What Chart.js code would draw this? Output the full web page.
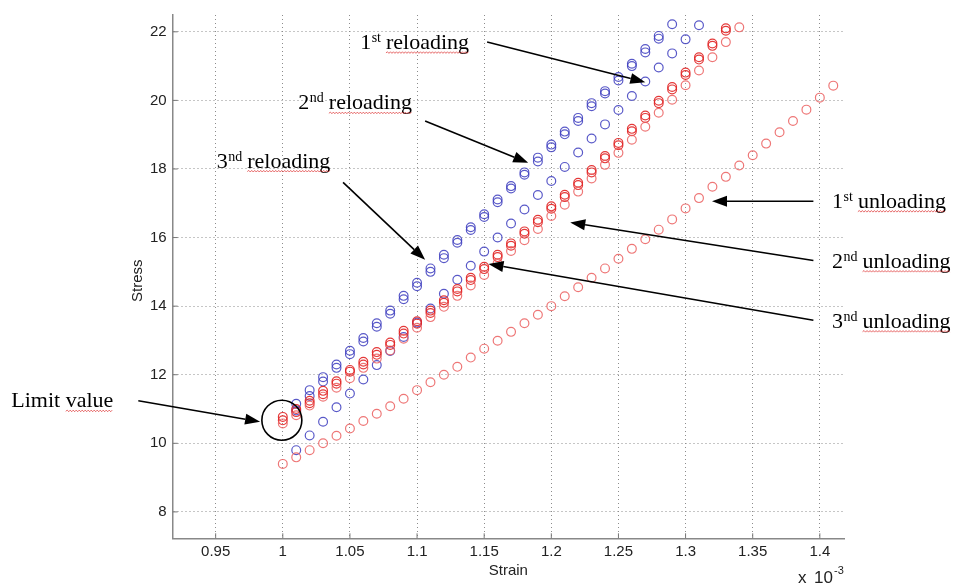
<!DOCTYPE html>
<html>
<head>
<meta charset="utf-8">
<title>Stress-strain cycles</title>
<script src="https://cdn.jsdelivr.net/npm/chart.js@4.4.1/dist/chart.umd.min.js"></script>
<style>
  html, body { margin: 0; padding: 0; background: #fff; }
  canvas { display: block; }
</style>
</head>
<body>
<canvas id="cycleChart" width="955" height="586"></canvas>
<script>
// strain (x 10^-3) and stress readings for each loading branch
const strainReload1 = [1.01, 1.02, 1.03, 1.04, 1.05, 1.06, 1.07, 1.08, 1.09, 1.10, 1.11, 1.12, 1.13, 1.14, 1.15, 1.16,
  1.17, 1.18, 1.19, 1.20, 1.21, 1.22, 1.23, 1.24, 1.25, 1.26, 1.27, 1.28, 1.29, 1.30, 1.31];
const stressReload1 = [9.80, 10.23, 10.63, 11.05, 11.45, 11.86, 12.28, 12.69, 13.10, 13.52, 13.93, 14.36, 14.77, 15.18, 15.59, 16.00,
  16.41, 16.82, 17.24, 17.65, 18.06, 18.48, 18.89, 19.30, 19.72, 20.13, 20.55, 20.96, 21.37, 21.78, 22.19];

const strainReload2 = [1.01, 1.02, 1.03, 1.04, 1.05, 1.06, 1.07, 1.08, 1.09, 1.10, 1.11, 1.12, 1.13, 1.14, 1.15,
  1.16, 1.17, 1.18, 1.19, 1.20, 1.21, 1.22, 1.23, 1.24, 1.25, 1.26, 1.27, 1.28, 1.29];
const stressReload2 = [11.15, 11.55, 11.93, 12.30, 12.70, 13.07, 13.50, 13.87, 14.30, 14.68, 15.10, 15.50, 15.93, 16.30, 16.68,
  17.11, 17.50, 17.90, 18.33, 18.71, 19.09, 19.49, 19.92, 20.27, 20.68, 21.07, 21.50, 21.88, 22.22];

const strainReload3 = [1.01, 1.02, 1.03, 1.04, 1.05, 1.06, 1.07, 1.08, 1.09, 1.10, 1.11, 1.12, 1.13, 1.14,
  1.15, 1.16, 1.17, 1.18, 1.19, 1.20, 1.21, 1.22, 1.23, 1.24, 1.25, 1.26, 1.27, 1.28];
const stressReload3 = [10.96, 11.38, 11.80, 12.20, 12.60, 12.97, 13.40, 13.78, 14.20, 14.58, 15.00, 15.40, 15.85, 16.22,
  16.60, 17.03, 17.43, 17.83, 18.22, 18.63, 19.01, 19.40, 19.83, 20.20, 20.58, 21.00, 21.40, 21.80];

const strainUnload1 = [1.00, 1.01, 1.02, 1.03, 1.04, 1.05, 1.06, 1.07, 1.08, 1.09, 1.10, 1.11, 1.12, 1.13,
  1.14, 1.15, 1.16, 1.17, 1.18, 1.19, 1.20, 1.21, 1.22, 1.23, 1.24, 1.25, 1.26, 1.27,
  1.28, 1.29, 1.30, 1.31, 1.32, 1.33, 1.34, 1.35, 1.36, 1.37, 1.38, 1.39, 1.40, 1.41];
const stressUnload1 = [9.40, 9.59, 9.80, 10.00, 10.22, 10.43, 10.65, 10.86, 11.08, 11.30, 11.55, 11.78, 12.00, 12.23,
  12.50, 12.76, 12.99, 13.25, 13.50, 13.75, 14.00, 14.29, 14.55, 14.83, 15.10, 15.38, 15.67, 15.95,
  16.23, 16.53, 16.85, 17.15, 17.48, 17.77, 18.10, 18.40, 18.74, 19.07, 19.40, 19.73, 20.08, 20.43];

const strainUnload2 = [1.00, 1.01, 1.02, 1.03, 1.04, 1.05, 1.06, 1.07, 1.08, 1.09, 1.10, 1.11, 1.12, 1.13, 1.14, 1.15, 1.16, 1.17,
  1.18, 1.19, 1.20, 1.21, 1.22, 1.23, 1.24, 1.25, 1.26, 1.27, 1.28, 1.29, 1.30, 1.31, 1.32, 1.33, 1.34];
const stressUnload2 = [10.58, 10.82, 11.10, 11.36, 11.62, 11.90, 12.20, 12.47, 12.71, 13.05, 13.37, 13.68, 13.98, 14.30, 14.60, 14.91, 15.25, 15.61,
  15.92, 16.25, 16.63, 16.96, 17.34, 17.72, 18.12, 18.47, 18.85, 19.23, 19.64, 20.02, 20.44, 20.87, 21.26, 21.70, 22.13];

const strainUnload3 = [1.00, 1.01, 1.02, 1.03, 1.04, 1.05, 1.06, 1.07, 1.08, 1.09, 1.10, 1.11, 1.12, 1.13, 1.14, 1.15, 1.16,
  1.17, 1.18, 1.19, 1.20, 1.21, 1.22, 1.23, 1.24, 1.25, 1.26, 1.27, 1.28, 1.29, 1.30, 1.31, 1.32, 1.33];
const stressUnload3 = [10.77, 11.00, 11.24, 11.53, 11.81, 12.14, 12.38, 12.66, 12.94, 13.28, 13.56, 13.87, 14.17, 14.50, 14.83, 15.15, 15.50,
  15.83, 16.18, 16.52, 16.91, 17.25, 17.60, 17.97, 18.38, 18.76, 19.17, 19.56, 19.99, 20.39, 20.81, 21.26, 21.66, 22.10];
const stressUnload3b = [10.67, 10.91, 11.17, 11.43, 11.74, 12.09, 12.30, 12.58, 12.87, 13.20, 13.49, 13.80, 14.10, 14.43, 14.76, 15.08, 15.43,
  15.76, 16.11, 16.45, 16.84, 17.18, 17.53, 17.90, 18.31, 18.69, 19.10, 19.49, 19.92, 20.32, 20.74, 21.19, 21.59, 22.03];

const xTicks = [0.95, 1, 1.05, 1.1, 1.15, 1.2, 1.25, 1.3, 1.35, 1.4];
const yTicks = [8, 10, 12, 14, 16, 18, 20, 22];

function pairUp(xs, ys) {
    return xs.map((x, i) => ({ x: x, y: ys[i] }));
}

function series(label, xs, ys, color) {
    return {
        label: label,
        data: pairUp(xs, ys),
        showLine: false,
        pointStyle: 'circle',
        pointRadius: 4.4,
        pointHoverRadius: 4.4,
        pointBorderWidth: 1.2,
        pointBackgroundColor: 'rgba(0,0,0,0)',
        pointBorderColor: color,
        borderColor: color
    };
}

// callouts, given in data units (strain, stress)
const callouts = [
    { num: '1', sup: 'st', word: 'reloading', at: [1.0576, 21.50], from: [1.1522, 21.70], to: [1.2700, 20.53] },
    { num: '2', sup: 'nd', word: 'reloading', at: [1.0116, 19.74], from: [1.1060, 19.40], to: [1.1828, 18.18] },
    { num: '3', sup: 'nd', word: 'reloading', at: [0.9508, 18.04], from: [1.0449, 17.61], to: [1.1060, 15.35] },
    { num: '1', sup: 'st', word: 'unloading', at: [1.4091, 16.87], from: [1.3952, 17.06], to: [1.3197, 17.06] },
    { num: '2', sup: 'nd', word: 'unloading', at: [1.4091, 15.12], from: [1.3952, 15.33], to: [1.2141, 16.44] },
    { num: '3', sup: 'nd', word: 'unloading', at: [1.4091, 13.37], from: [1.3952, 13.59], to: [1.1532, 15.23] },
    { num: '', sup: '', word: 'Limit value', squiggleFrom: 'Limit ', at: [0.7978, 11.05], from: [0.8924, 11.24], to: [0.9831, 10.63] }
];
const limitRing = { center: [0.9993, 10.674], radius: 20 };

function drawArrow(ctx, x1, y1, x2, y2) {
    const ang = Math.atan2(y2 - y1, x2 - x1);
    const len = 15, half = 5.5;
    const bx = x2 - len * Math.cos(ang), by = y2 - len * Math.sin(ang);
    ctx.beginPath();
    ctx.moveTo(x1, y1);
    ctx.lineTo(bx, by);
    ctx.stroke();
    ctx.beginPath();
    ctx.moveTo(x2, y2);
    ctx.lineTo(bx + half * Math.sin(ang), by - half * Math.cos(ang));
    ctx.lineTo(bx - half * Math.sin(ang), by + half * Math.cos(ang));
    ctx.closePath();
    ctx.fill();
}

function squiggle(ctx, x0, x1, y) {
    ctx.save();
    ctx.strokeStyle = 'rgba(220,40,40,0.85)';
    ctx.lineWidth = 0.8;
    ctx.beginPath();
    let up = true;
    ctx.moveTo(x0, y);
    for (let x = x0 + 1.5; x <= x1; x += 1.5) {
        ctx.lineTo(x, up ? y - 1.2 : y + 0.4);
        up = !up;
    }
    ctx.stroke();
    ctx.restore();
}

const decorations = {
    id: 'decorations',
    afterDraw(chart) {
        const ctx = chart.ctx;
        const xs = chart.scales.x, ys = chart.scales.y;
        const area = chart.chartArea;
        const px = p => [xs.getPixelForValue(p[0]), ys.getPixelForValue(p[1])];

        ctx.save();
        // inward tick marks
        ctx.strokeStyle = '#777';
        ctx.lineWidth = 1;
        xTicks.forEach(v => {
            const x = xs.getPixelForValue(v);
            ctx.beginPath(); ctx.moveTo(x, area.bottom); ctx.lineTo(x, area.bottom - 5); ctx.stroke();
        });
        yTicks.forEach(v => {
            const y = ys.getPixelForValue(v);
            ctx.beginPath(); ctx.moveTo(area.left, y); ctx.lineTo(area.left + 5, y); ctx.stroke();
        });

        // axis titles and exponent
        ctx.fillStyle = '#222';
        ctx.font = '15px "Liberation Sans", Arial, sans-serif';
        ctx.textAlign = 'center';
        ctx.textBaseline = 'middle';
        ctx.fillText('Strain', (area.left + area.right) / 2, 571);
        ctx.save();
        ctx.translate(138, (area.top + area.bottom) / 2 + 4);
        ctx.rotate(-Math.PI / 2);
        ctx.fillText('Stress', 0, 0);
        ctx.restore();
        ctx.textBaseline = 'alphabetic';
        ctx.textAlign = 'left';
        ctx.font = '17px "Liberation Sans", Arial, sans-serif';
        ctx.fillText('x', 798, 583);
        ctx.fillText('10', 814, 583);
        ctx.font = '11px "Liberation Sans", Arial, sans-serif';
        ctx.fillText('-3', 834, 574);

        // callout labels and arrows
        ctx.fillStyle = '#000';
        ctx.strokeStyle = '#000';
        ctx.lineWidth = 1.6;
        callouts.forEach(c => {
            const [tx, ty] = px(c.at);
            let x = tx;
            ctx.font = '22px "Liberation Serif", "Times New Roman", serif';
            if (c.num) {
                ctx.fillText(c.num, x, ty);
                x += ctx.measureText(c.num).width + 0.5;
                ctx.font = '14px "Liberation Serif", "Times New Roman", serif';
                ctx.fillText(c.sup, x, ty - 7);
                x += ctx.measureText(c.sup).width + 5;
                ctx.font = '22px "Liberation Serif", "Times New Roman", serif';
            }
            ctx.fillText(c.word, x, ty);
            let sx = x;
            let word = c.word;
            if (c.squiggleFrom) {
                sx += ctx.measureText(c.squiggleFrom).width;
                word = c.word.slice(c.squiggleFrom.length);
            }
            squiggle(ctx, sx, sx + ctx.measureText(word).width, ty + 4);
            const [ax, ay] = px(c.from);
            const [bx, by] = px(c.to);
            drawArrow(ctx, ax, ay, bx, by);
        });

        // ring around the limit value
        const [cx, cy] = px(limitRing.center);
        ctx.lineWidth = 1.6;
        ctx.beginPath();
        ctx.arc(cx, cy, limitRing.radius, 0, Math.PI * 2);
        ctx.stroke();
        ctx.restore();
    }
};

const blue = 'rgba(60,60,190,0.85)';
const redDark = 'rgba(225,35,35,0.9)';
const redLight = 'rgba(235,95,95,0.85)';

const ctx = document.getElementById('cycleChart').getContext('2d');
new Chart(ctx, {
    type: 'scatter',
    data: {
        datasets: [
            series('1st unloading', strainUnload1, stressUnload1, redLight),
            series('2nd unloading', strainUnload2, stressUnload2, redLight),
            series('3nd unloading', strainUnload3, stressUnload3, redDark),
            series('3nd unloading (repeat)', strainUnload3, stressUnload3b, redDark),
            series('1st reloading', strainReload1, stressReload1, blue),
            series('2nd reloading', strainReload2, stressReload2, blue),
            series('3nd reloading', strainReload3, stressReload3, blue)
        ]
    },
    options: {
        responsive: false,
        animation: false,
        layout: { padding: { left: 0, right: 111, top: 0, bottom: 0 } },
        plugins: {
            legend: { display: false },
            tooltip: { enabled: false }
        },
        scales: {
            x: {
                type: 'linear',
                min: 0.918,
                max: 1.418,
                afterBuildTicks: scale => { scale.ticks = xTicks.map(v => ({ value: v })); },
                afterFit: scale => { scale.height = 47.7; },
                ticks: {
                    color: '#222',
                    padding: 5,
                    maxRotation: 0,
                    font: { family: '"Liberation Sans", Arial, sans-serif', size: 15 },
                    callback: v => String(v)
                },
                grid: { color: '#8c8c8c', lineWidth: 1, drawTicks: false },
                border: { display: true, color: '#888', width: 1.5, dash: [1, 3] }
            },
            y: {
                min: 7.23,
                max: 22.49,
                afterBuildTicks: scale => { scale.ticks = yTicks.map(v => ({ value: v })); },
                afterFit: scale => { scale.width = 172.7; },
                ticks: {
                    color: '#222',
                    padding: 6,
                    font: { family: '"Liberation Sans", Arial, sans-serif', size: 15 },
                    callback: v => String(v)
                },
                grid: { color: '#8c8c8c', lineWidth: 1, drawTicks: false },
                border: { display: true, color: '#888', width: 1.5, dash: [1, 3] }
            }
        }
    },
    plugins: [decorations]
});
</script>
</body>
</html>
